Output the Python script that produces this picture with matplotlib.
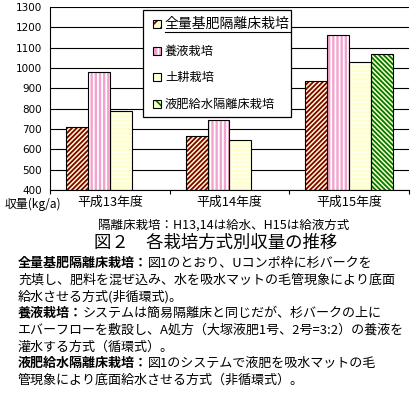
import matplotlib
matplotlib.use('Agg')
import matplotlib.pyplot as plt
from matplotlib.patches import Rectangle
from matplotlib.lines import Line2D

plt.rcParams['font.family'] = ['Noto Sans CJK JP', 'DejaVu Sans']
plt.rcParams['hatch.linewidth'] = 1.3

# data
years = ['平成13年度', '平成14年度', '平成15年度']
series = ['全量基肥隔離床栽培', '養液栽培', '土耕栽培', '液肥給水隔離床栽培']
kiso = [710, 665, 935]
yoeki = [978, 743, 1162]
dokou = [788, 645, 1028]
ekihi = [None, None, 1067]
yticks = list(range(400, 1301, 100))

# face, hatch colour, hatch
styles = [
    ('#FFFFCC', '#800000', '///////'),
    ('#F2A2CC', '#FFFFFF', '||||'),
    ('#FFFFCC', '#FFFFF0', '----'),
    ('#FFFFCC', '#007A00', '\\\\\\\\\\\\\\'),
]

W, H = 417, 397
fig = plt.figure(figsize=(W / 100, H / 100), dpi=100)


def fx(x):
    return x / W


def fy(y):
    return 1 - y / H


ax = fig.add_axes([fx(50), fy(190), fx(409) - fx(50), fy(7) - fy(190)])
width = 22 / 120
for j, vals in enumerate([kiso, yoeki, dokou, ekihi]):
    face, hc, hatch = styles[j]
    for i, v in enumerate(vals):
        if v is None:
            continue
        x = i + (j - 1.5) * width
        ax.bar(x, v - 400, width, bottom=400, color=face, edgecolor=hc,
               hatch=hatch, linewidth=0, zorder=2)
        ax.bar(x, v - 400, width, bottom=400, fill=False, edgecolor='black',
               linewidth=0.8, zorder=3)

ax.set_xlim(-0.5, 2.5)
ax.set_ylim(400, 1300)
ax.set_yticks(yticks)
ax.set_yticklabels([str(t) for t in yticks], family='DejaVu Sans', fontsize=7.5)
ax.tick_params(axis='y', length=0, pad=6)
ax.set_xticks(range(3))
ax.set_xticklabels(years, fontsize=9.3)
ax.set_xticks([-0.5, 0.5, 1.5, 2.5], minor=True)
ax.tick_params(axis='x', which='major', length=0, pad=4)
ax.tick_params(axis='x', which='minor', length=3, direction='out', width=0.8)
ax.grid(axis='y', color='black', linewidth=0.8, zorder=1)
ax.set_axisbelow(True)
ax.spines['right'].set_visible(False)
ax.spines['top'].set_visible(False)
for s in ['left', 'bottom']:
    ax.spines[s].set_linewidth(0.8)

fig.text(fx(5), fy(204), '収量(kg/a)', fontsize=8.6, va='center', ha='left')

# legend box
fig.add_artist(Rectangle((fx(143), fy(117)), fx(291) - fx(143), fy(10) - fy(117),
                         transform=fig.transFigure, facecolor='white',
                         edgecolor='black', linewidth=0.9, zorder=5))
ly = [24, 51, 77, 104]
for k, name in enumerate(series):
    face, hc, hatch = styles[k]
    fig.add_artist(Rectangle((fx(153), fy(ly[k] + 4)), fx(8), fy(0) - fy(8),
                             transform=fig.transFigure, facecolor=face,
                             edgecolor=hc, hatch=hatch[:3], linewidth=0, zorder=6))
    fig.add_artist(Rectangle((fx(153), fy(ly[k] + 4)), fx(8), fy(0) - fy(8),
                             transform=fig.transFigure, fill=False,
                             edgecolor='black', linewidth=0.8, zorder=7))
    fig.text(fx(165), fy(ly[k]), name, fontsize=10 if k == 0 else 8.8,
             va='center', ha='left', zorder=7)
fig.add_artist(Line2D([fx(165), fx(290)], [fy(32), fy(32)], color='black',
                      linewidth=0.8, transform=fig.transFigure, zorder=7))

fig.text(fx(224), fy(225), '隔離床栽培：H13,14は給水、H15は給液方式',
         fontsize=9.0, ha='center', va='center')
fig.text(fx(216), fy(243), '図２　各栽培方式別収量の推移',
         fontsize=12.5, ha='center', va='center')

lines = [
    ('全量基肥隔離床栽培：', '図1のとおり、Uコンポ枠に杉バークを'),
    ('', '充填し、肥料を混ぜ込み、水を吸水マットの毛管現象により底面'),
    ('', '給水させる方式(非循環式)。'),
    ('養液栽培：', 'システムは簡易隔離床と同じだが、杉バークの上に'),
    ('', 'エバーフローを敷設し、A処方（大塚液肥1号、2号=3:2）の養液を'),
    ('', '灌水する方式（循環式）。'),
    ('液肥給水隔離床栽培：', '図1のシステムで液肥を吸水マットの毛'),
    ('', '管現象により底面給水させる方式（非循環式）。'),
]
line_y = [263, 280, 297, 313, 330, 347, 363, 380]
for (bold, rest), y in zip(lines, line_y):
    if bold:
        t = fig.text(fx(18), fy(y), bold, fontsize=9.4, fontweight='bold',
                     va='center', ha='left')
        ax.annotate(rest, xy=(1, 0), xycoords=t, fontsize=9.4,
                    va='bottom', ha='left', annotation_clip=False)
    else:
        fig.text(fx(18), fy(y), rest, fontsize=9.4, va='center', ha='left')

fig.savefig('out.png', dpi=100)
